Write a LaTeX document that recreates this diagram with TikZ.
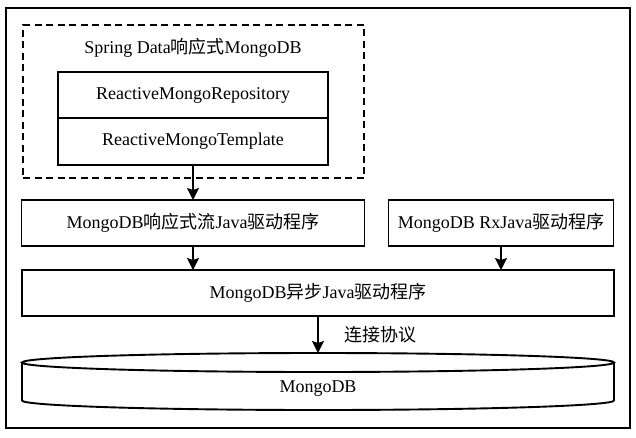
\documentclass[tikz,border=0pt]{standalone}
\usepackage{fontspec}
\setmainfont{Liberation Serif}
\newfontfamily\cjk{Noto Sans CJK SC}
\newcommand{\zh}[1]{{\cjk #1}}
\usetikzlibrary{arrows.meta, positioning}

\begin{document}
\begin{tikzpicture}[
    x=1pt, y=-1pt,
    font=\fontsize{18}{21}\selectfont,
    box/.style={draw, rectangle, line width=1.9pt, minimum height=46pt, inner sep=2pt, outer sep=0pt, align=center},
    dashbox/.style={draw, rectangle, line width=2.2pt, dash pattern=on 7pt off 4.5pt},
    framebox/.style={draw, rectangle, line width=2.2pt},
    dbline/.style={line width=1.9pt},
    arrow/.style={-{Stealth[length=12pt, width=12pt, inset=2pt]}, line width=2pt}
]
\useasboundingbox (0,0) rectangle (636,437);

% Outer frame
\node[framebox, minimum width=624pt, minimum height=420pt, anchor=north west] (frame) at (5,7) {};

% Spring Data group
\node[dashbox, minimum width=341pt, minimum height=153pt, anchor=north west] (spring) at (22,24) {};
\node (springlabel) at (193,48) {Spring Data\zh{响应式}MongoDB};
\node[box, minimum width=270pt] (repo) at (193,95) {ReactiveMongoRepository};
\node[box, minimum width=270pt, minimum height=47pt, below=0pt of repo] (template) {ReactiveMongoTemplate};

% Drivers
\node[box, minimum width=343pt, below=35pt of template] (stream) {MongoDB\zh{响应式流}Java\zh{驱动程序}};
\node[box, minimum width=225pt, right=24pt of stream] (rx) {MongoDB RxJava\zh{驱动程序}};
\node[box, minimum width=592pt] (async) at (318,293) {MongoDB\zh{异步}Java\zh{驱动程序}};

% Database
\coordinate (dbtop) at (318,353);
\draw[dbline] (318,362.5) ellipse [x radius=296pt, y radius=9.5pt];
\draw[dbline] (22,362.5) -- (22,400.5) arc[start angle=180, end angle=360, x radius=296pt, y radius=9.5pt] -- (614,362.5);
\node (db) at (318,389) {MongoDB};

% Arrows
\draw[arrow] (template.south) -- (stream.north);
\draw[arrow] (stream.south) -- (stream.south |- async.north);
\draw[arrow] (rx.south) -- (rx.south |- async.north);
\draw[arrow] (async.south) -- (dbtop) node[midway, right=22pt] (proto) {\zh{连接协议}};

\end{tikzpicture}
\end{document}
